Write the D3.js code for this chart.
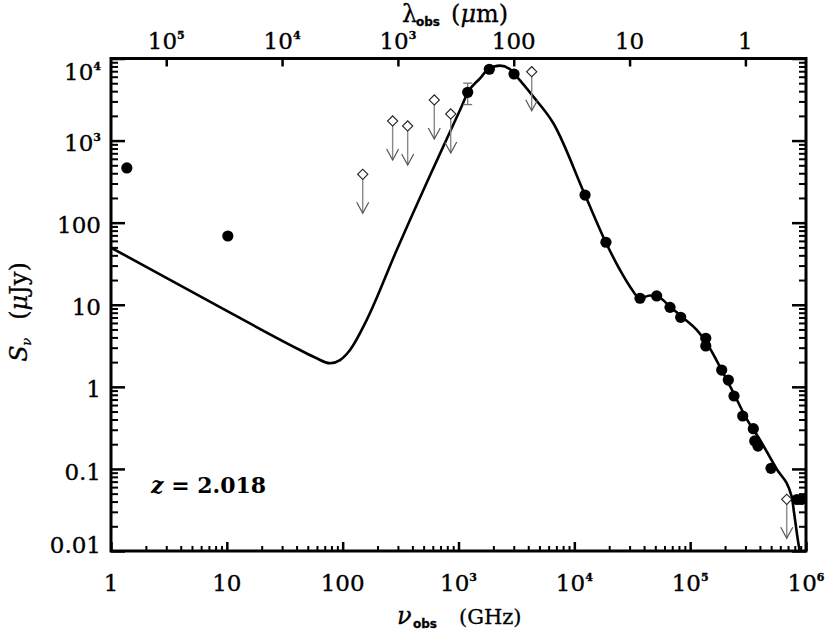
<!DOCTYPE html>
<html>
<head>
<meta charset="utf-8">
<script src="https://cdn.jsdelivr.net/npm/d3@7"></script>
<style>
  body { margin: 0; background: #fff; }
  svg { display: block; }
</style>
</head>
<body>
<svg id="chart" width="831" height="631"></svg>
<script>
// ---------------- DATA ----------------
// Model SED curve (observed frequency in GHz, flux density in microJy)
const modelNu = [1, 10, 42.8, 57.7, 77.8, 94.9, 115.7, 161, 293, 381, 535, 791, 1031, 1216, 1535, 1808, 2282, 2786, 3183, 4426, 6589, 12370, 18770, 24790, 30270, 36900, 45000, 54900, 67000, 84600, 113900, 137000, 187200, 239200, 297700, 401000, 551000, 753000, 790000, 870000, 920000];
const modelS  = [49.6, 8.4, 2.81, 2.28, 1.94, 2.12, 2.81, 6.5, 46.5, 107.8, 313, 1046, 2360, 3945, 5740, 7400, 8180, 7400, 6010, 3427, 1625, 217, 57, 26.5, 16.6, 11.98, 12.97, 12.1, 9.46, 7.15, 4.93, 3.52, 1.6, 0.818, 0.441, 0.225, 0.1026, 0.0459, 0.0288, 0.0112, 0.0078];

// Detections (filled circles)
const detNu = [1.37, 10.2, 1200, 1845, 3015, 12370, 18737, 36900, 51400, 67000, 82800, 136400, 136400, 187200, 213500, 239000, 284300, 350800, 361000, 385000, 499000, 836600, 914000];
const detS  = [464, 68.8, 3875, 7400, 6470, 217, 57.7, 12.0, 12.8, 9.3, 7.03, 3.90, 3.15, 1.60, 1.21, 0.773, 0.441, 0.309, 0.219, 0.190, 0.1018, 0.0424, 0.0424];

// Error bar (250 micron point)
const errNu = [1200];
const errS = [3875];
const errSigma = [1130];

// Upper limits (open diamonds with arrows)
const limNu = [149, 270, 364, 618, 857, 4285, 682000];
const limS  = [388, 1734, 1507, 3124, 2110, 6900, 0.0426];

// Axes ticks and labels
const xTicks = [1, 10, 100, 1e3, 1e4, 1e5, 1e6];
const xTickLabels = ["1", "10", "100", "10^3", "10^4", "10^5", "10^6"];
const lamTicks = [1e5, 1e4, 1e3, 100, 10, 1];
const lamTickLabels = ["10^5", "10^4", "10^3", "100", "10", "1"];
const yTicks = [0.01, 0.1, 1, 10, 100, 1e3, 1e4];
const yTickLabels = ["0.01", "0.1", "1", "10", "100", "10^3", "10^4"];
const redshiftText = "2.018";

// ---------------- LAYOUT ----------------
const L = 111, R = 806, T = 58.5, B = 551;
const FONT = "'DejaVu Serif', serif";
const SANS = "'DejaVu Sans', sans-serif";
const C_UM_GHZ = 2.998e5; // lambda(um) = c / nu(GHz)

const svg = d3.select("#chart");
const x = d3.scaleLog().domain([1, 1e6]).range([L, R]);
const y = d3.scaleLog().domain([0.01, 1e4]).range([B, T]);
const xl = d3.scaleLog().domain([C_UM_GHZ / 1, C_UM_GHZ / 1e6]).range([L, R]);

const isPow10 = v => Math.abs(Math.log10(v) - Math.round(Math.log10(v))) < 1e-9;
const xMinor = x.ticks().filter(v => !isPow10(v));
const yMinor = y.ticks().filter(v => !isPow10(v));

function addLabel(g, str, xx, yy, anchor) {
  const t = g.append("text")
    .attr("x", xx).attr("y", yy)
    .attr("text-anchor", anchor)
    .attr("font-family", FONT).attr("font-size", 23).attr("fill", "#000")
    .attr("stroke", "#000").attr("stroke-width", 0.35);
  const parts = str.split("^");
  t.append("tspan").text(parts[0]);
  if (parts[1]) t.append("tspan").attr("font-size", 11).attr("font-weight", "bold").attr("dy", -10).text(parts[1]);
  return t;
}

function styleAxis(g, w) {
  g.select(".domain").remove();
  g.selectAll("line").attr("stroke", "#000").attr("stroke-width", w);
}

// clip
svg.append("defs").append("clipPath").attr("id", "plotclip")
  .append("rect").attr("x", L).attr("y", T).attr("width", R - L).attr("height", B - T);

// bottom axis
styleAxis(svg.append("g").attr("transform", `translate(0,${B})`)
  .call(d3.axisBottom(x).tickValues(xTicks).tickSizeInner(-9).tickSizeOuter(0).tickFormat("")), 2.5);
styleAxis(svg.append("g").attr("transform", `translate(0,${B})`)
  .call(d3.axisBottom(x).tickValues(xMinor).tickSizeInner(-5).tickSizeOuter(0).tickFormat("")), 2);
const gxl = svg.append("g");
xTicks.forEach((v, i) => addLabel(gxl, xTickLabels[i], x(v), 590.5, "middle"));

// top axis (wavelength)
styleAxis(svg.append("g").attr("transform", `translate(0,${T})`)
  .call(d3.axisTop(xl).tickValues(lamTicks).tickSizeInner(-8).tickSizeOuter(0).tickFormat("")), 2.5);
const gtl = svg.append("g");
lamTicks.forEach((v, i) => addLabel(gtl, lamTickLabels[i], xl(v), 49, "middle"));

// left axis
styleAxis(svg.append("g").attr("transform", `translate(${L},0)`)
  .call(d3.axisLeft(y).tickValues(yTicks).tickSizeInner(-14).tickSizeOuter(0).tickFormat("")), 2.5);
styleAxis(svg.append("g").attr("transform", `translate(${L},0)`)
  .call(d3.axisLeft(y).tickValues(yMinor).tickSizeInner(-7).tickSizeOuter(0).tickFormat("")), 2);
const gyl = svg.append("g");
yTicks.forEach((v, i) => {
  const by = Math.max(T + 21, Math.min(B + 1.7, y(v) + 10.6));
  addLabel(gyl, yTickLabels[i], 101, by, "end");
});

// right axis
styleAxis(svg.append("g").attr("transform", `translate(${R},0)`)
  .call(d3.axisRight(y).tickValues(yTicks).tickSizeInner(-14).tickSizeOuter(0).tickFormat("")), 2.5);
styleAxis(svg.append("g").attr("transform", `translate(${R},0)`)
  .call(d3.axisRight(y).tickValues(yMinor).tickSizeInner(-7).tickSizeOuter(0).tickFormat("")), 2);

// titles
const xt = svg.append("text").attr("y", 624).attr("font-family", FONT).attr("fill", "#000")
  .attr("stroke", "#000").attr("stroke-width", 0.3);
xt.append("tspan").attr("x", 397).attr("font-size", 24).attr("font-style", "italic").text("ν");
xt.append("tspan").attr("x", 413).attr("dy", 4).attr("font-size", 12).attr("font-weight", "bold").attr("font-family", SANS).text("obs");
xt.append("tspan").attr("x", 459).attr("dy", -4).attr("font-size", 21).text("(GHz)");

const tt = svg.append("text").attr("y", 22).attr("font-family", FONT).attr("fill", "#000")
  .attr("stroke", "#000").attr("stroke-width", 0.3);
tt.append("tspan").attr("x", 402).attr("font-size", 24).text("λ");
tt.append("tspan").attr("x", 416).attr("dy", 4).attr("font-size", 12).attr("font-weight", "bold").attr("font-family", SANS).text("obs");
tt.append("tspan").attr("x", 451).attr("dy", -4).attr("font-size", 24).text("(");
tt.append("tspan").attr("font-size", 24).attr("font-style", "italic").text("μ");
tt.append("tspan").attr("font-size", 24).text("m)");

const yt = svg.append("text").attr("transform", `translate(27,${(T + B) / 2 + 57}) rotate(-90)`)
  .attr("font-family", FONT).attr("fill", "#000").attr("stroke", "#000").attr("stroke-width", 0.3);
yt.append("tspan").attr("x", 0).attr("font-size", 24).attr("font-style", "italic").text("S");
yt.append("tspan").attr("x", 16).attr("dy", 4).attr("font-size", 13).attr("font-style", "italic").text("ν");
yt.append("tspan").attr("x", 42).attr("dy", -4).attr("font-size", 24).text("(");
yt.append("tspan").attr("font-size", 24).attr("font-style", "italic").text("μ");
yt.append("tspan").attr("font-size", 24).text("Jy)");

// redshift label
const zt = svg.append("text").attr("x", 151).attr("y", 493).attr("font-family", FONT)
  .attr("font-weight", "bold").attr("font-size", 22).attr("fill", "#000");
zt.append("tspan").attr("font-style", "italic").text("z");
zt.append("tspan").text(" = " + redshiftText);

// model curve
const model = modelNu.map((nu, i) => ({ nu, s: modelS[i] }));
svg.append("path")
  .datum(model)
  .attr("clip-path", "url(#plotclip)")
  .attr("fill", "none").attr("stroke", "#000").attr("stroke-width", 2.6)
  .attr("stroke-linejoin", "round")
  .attr("d", d3.line().x(d => x(d.nu)).y(d => y(d.s)).curve(d3.curveMonotoneX));

// upper limits
const lims = limNu.map((nu, i) => ({ nu, s: limS[i] }));
const ARROW = 39;
const gl = svg.append("g");
gl.selectAll("line.arr").data(lims).join("line").attr("class", "arr")
  .attr("x1", d => x(d.nu)).attr("x2", d => x(d.nu))
  .attr("y1", d => y(d.s)).attr("y2", d => y(d.s) + ARROW)
  .attr("stroke", "#888").attr("stroke-width", 1.4);
gl.selectAll("path.head").data(lims).join("path").attr("class", "head")
  .attr("d", d => {
    const cx = x(d.nu), ey = y(d.s) + ARROW;
    return `M${cx - 6},${ey - 11}L${cx},${ey}L${cx + 6},${ey - 11}`;
  })
  .attr("fill", "none").attr("stroke", "#555").attr("stroke-width", 1.2);
gl.selectAll("path.dia").data(lims).join("path").attr("class", "dia")
  .attr("transform", d => `translate(${x(d.nu)},${y(d.s)}) rotate(45)`)
  .attr("d", d3.symbol(d3.symbolSquare, 52)())
  .attr("fill", "#fff").attr("stroke", "#222").attr("stroke-width", 1.1);

// error bar
const errs = errNu.map((nu, i) => ({ nu, s: errS[i], e: errSigma[i] }));
const ge = svg.append("g").attr("stroke", "#777").attr("stroke-width", 1.3);
errs.forEach(d => {
  const cx = x(d.nu), y1 = y(d.s + d.e), y2 = y(d.s - d.e);
  ge.append("line").attr("x1", cx).attr("x2", cx).attr("y1", y1).attr("y2", y2);
  ge.append("line").attr("x1", cx - 4.5).attr("x2", cx + 4.5).attr("y1", y1).attr("y2", y1);
  ge.append("line").attr("x1", cx - 4.5).attr("x2", cx + 4.5).attr("y1", y2).attr("y2", y2);
});

// detections
const dets = detNu.map((nu, i) => ({ nu, s: detS[i] }));
svg.append("g").selectAll("circle").data(dets).join("circle")
  .attr("cx", d => x(d.nu)).attr("cy", d => y(d.s)).attr("r", 5.6).attr("fill", "#000");

// frame
svg.append("rect").attr("x", L).attr("y", T).attr("width", R - L).attr("height", B - T)
  .attr("fill", "none").attr("stroke", "#000").attr("stroke-width", 3);
</script>
</body>
</html>
